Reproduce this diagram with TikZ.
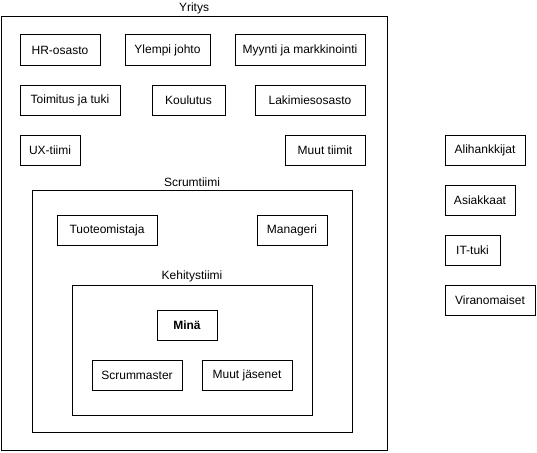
\documentclass[tikz,border=0pt]{standalone}
\usepackage{fontspec}
\setmainfont{Liberation Sans}
\usepackage{tikz}

\begin{document}
\begin{tikzpicture}[x=1pt,y=-1pt,line width=1pt,
  font=\fontsize{12}{14}\selectfont,
  osa/.style={draw,minimum height=30pt,inner sep=0pt},
  ryhma/.style={draw,inner sep=0pt},
  otsikko/.style={anchor=south,inner sep=2pt}]
\useasboundingbox (0,0) rectangle (537,452);
%ryhmat
\node[ryhma,minimum width=386pt,minimum height=433pt] (yritys) at (194,233.5) {};
\node[otsikko] (yritysotsikko) at (yritys.north) {Yritys};
\node[ryhma,minimum width=320pt,minimum height=242pt] (scrum) at (192,311) {};
\node[otsikko] (scrumotsikko) at (scrum.north) {Scrumtiimi};
\node[ryhma,minimum width=240pt,minimum height=130pt] (kehitys) at (192,350) {};
\node[otsikko] (kehitysotsikko) at (kehitys.north) {Kehitystiimi};
%yritys
\node[osa,minimum width=80pt]  (hr)       at (60,50)    {HR-osasto};
\node[osa,minimum width=85pt]  (johto)    at (167.5,50) {Ylempi johto};
\node[osa,minimum width=130pt] (myynti)   at (300,50)   {Myynti ja markkinointi};
\node[osa,minimum width=100pt] (toimitus) at (70,100)   {Toimitus ja tuki};
\node[osa,minimum width=73pt]  (koulutus) at (188.5,100) {Koulutus};
\node[osa,minimum width=110pt] (laki)     at (310,100)  {Lakimiesosasto};
\node[osa,minimum width=60pt]  (ux)       at (50,150)   {UX-tiimi};
\node[osa,minimum width=80pt]  (muut)     at (325,150)  {Muut tiimit};
%scrumtiimi
\node[osa,minimum width=100pt] (omistaja) at (107,230)  {Tuoteomistaja};
\node[osa,minimum width=70pt]  (manageri) at (292,230)  {Manageri};
%kehitystiimi
\node[osa,minimum width=60pt]  (mina)     at (187,325)  {\textbf{Minä}};
\node[osa,minimum width=90pt]  (master)   at (137,375)  {Scrummaster};
\node[osa,minimum width=90pt]  (jasenet)  at (247,375)  {Muut jäsenet};
%ulkopuoliset
\node[osa,minimum width=80pt]  (ali)      at (485,150)  {Alihankkijat};
\node[osa,minimum width=70pt]  (asiakas)  at (480,200)  {Asiakkaat};
\node[osa,minimum width=55pt]  (ittuki)   at (472.5,250) {IT-tuki};
\node[osa,minimum width=90pt]  (viran)    at (490,300)  {Viranomaiset};
\end{tikzpicture}
\end{document}
